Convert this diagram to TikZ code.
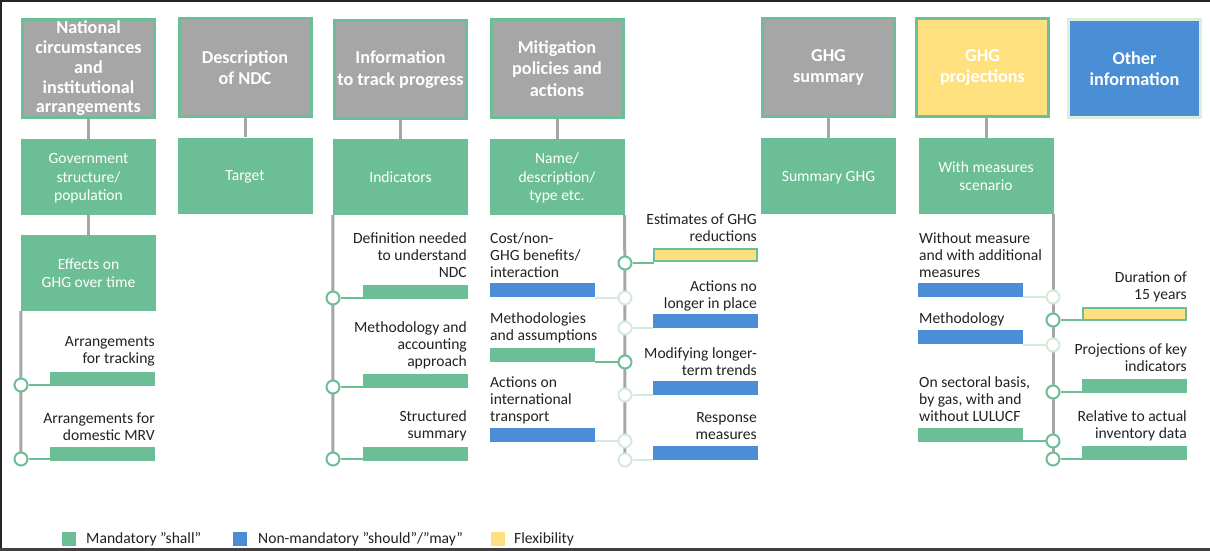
\documentclass[tikz,border=0pt]{standalone}
\usepackage{fontspec}
\setmainfont{Carlito}
\usetikzlibrary{backgrounds}
\definecolor{gr}{HTML}{6BBE96}
\definecolor{fgr}{HTML}{D4EBDC}
\definecolor{gy}{HTML}{A6A6A6}
\definecolor{yl}{HTML}{FFE07F}
\definecolor{bl}{HTML}{4A8FD6}
\definecolor{lbd}{HTML}{DCEFDD}
\definecolor{tx}{HTML}{222222}
\tikzset{
  hdr/.style={draw=gr, line width=3pt, fill=gy, minimum width=132pt, minimum height=98pt,
    inner sep=0pt, text=white, align=center, font=\fontsize{18.2}{21.5}\selectfont\bfseries},
  sub/.style={fill=gr, minimum width=135pt, minimum height=76pt, inner sep=0pt,
    text=white, align=center, font=\fontsize{15.6}{18.5}\selectfont, text depth=-1pt},
  bar/.style={minimum width=105pt, minimum height=14pt, inner sep=0pt, outer sep=0pt},
  gbar/.style={bar, fill=gr},
  bbar/.style={bar, fill=bl},
  ybar/.style={bar, fill=yl, draw=gr, line width=2pt, minimum width=103pt, minimum height=12pt},
  circ/.style={circle, fill=white, line width=2pt, minimum size=13pt, inner sep=0pt},
  scirc/.style={circ, draw=gr},
  fcirc/.style={circ, draw=fgr},
  sline/.style={draw=gr, line width=2pt},
  fline/.style={draw=fgr, line width=2pt},
  vline/.style={draw=gy, line width=3pt},
  lab/.style={text=tx, inner sep=0pt, font=\fontsize{15.6}{17}\selectfont},
  rlab/.style={lab, align=right, anchor=east},
  llab/.style={lab, align=left, anchor=west},
  leg/.style={minimum width=14pt, minimum height=14pt, inner sep=0pt},
}
\begin{document}
\begin{tikzpicture}[x=1pt,y=-1pt]
\useasboundingbox (0,0) rectangle (1210,551);

% headers
\node[hdr, font=\fontsize{18.2}{19.75}\selectfont\bfseries] (h1) at (88.5,68.5) {National\\circumstances\\and\\institutional\\arrangements};
\node[hdr] (h2) at (245,67.5) {Description\\of NDC};
\node[hdr] (h3) at (400.5,69.5) {Information\\to track progress};
\node[hdr] (h4) at (557,68.5) {Mitigation\\policies and\\actions};
\node[hdr] (h5) at (828.5,67.5) {GHG\\summary};
\node[hdr, fill=yl] (h6) at (982.5,67.5) {GHG\\projections};
\node[hdr, fill=bl, draw=lbd] (h7) at (1134.5,68.5) {Other\\information};

% sub boxes
\node[sub] (s1) at (88.5,177) {Government\\structure/\\population};
\node[sub] (s2) at (245,175.5) {Target};
\node[sub] (s3) at (400.5,177) {Indicators};
\node[sub] (s4) at (557,177) {Name/\\description/\\type etc.};
\node[sub] (s5) at (828.5,176) {Summary GHG};
\node[sub] (s6) at (986,176) {With measures\\scenario};
\node[sub] (s7) at (88.5,273) {Effects on\\GHG over time};

% bars
\node[gbar, anchor=south west] (ba1) at (50,386) {};
\node[gbar, anchor=south west] (ba2) at (50,461) {};
\node[gbar, anchor=south west] (bb1) at (363,299) {};
\node[gbar, anchor=south west] (bb2) at (363,388) {};
\node[gbar, anchor=south west] (bb3) at (363,461) {};
\node[bbar, anchor=south west] (bl1) at (490,297) {};
\node[gbar, anchor=south west] (bl2) at (490,362) {};
\node[bbar, anchor=south west] (bl3) at (490,442) {};
\node[ybar] (br1) at (705.5,255) {};
\node[bbar, anchor=south west] (br2) at (653,328) {};
\node[bbar, anchor=south west] (br3) at (653,395) {};
\node[bbar, anchor=south west] (br4) at (653,460) {};
\node[bbar, anchor=south west] (bl4) at (918,297) {};
\node[bbar, anchor=south west] (bl5) at (918,344) {};
\node[gbar, anchor=south west] (bl6) at (918,442) {};
\node[ybar] (br5) at (1134.5,314) {};
\node[gbar, anchor=south west] (br6) at (1082,393) {};
\node[gbar, anchor=south west] (br7) at (1082,460) {};

% circles
\node[scirc] (ca1) at (21,385) {};
\node[scirc] (ca2) at (21,459) {};
\node[scirc] (cb1) at (333,298) {};
\node[scirc] (cb2) at (333,387) {};
\node[scirc] (cb3) at (333,459) {};
\node[scirc] (cr1) at (625,263) {};
\node[fcirc] (cl1) at (625,298) {};
\node[fcirc] (cr2) at (625,328) {};
\node[scirc] (cl2) at (625,362) {};
\node[fcirc] (cr3) at (625,395) {};
\node[fcirc] (cl3) at (625,441) {};
\node[fcirc] (cr4) at (625,460) {};
\node[fcirc] (cl4) at (1053,297) {};
\node[scirc] (cr5) at (1053,320) {};
\node[fcirc] (cl5) at (1053,345) {};
\node[scirc] (cr6) at (1053,392) {};
\node[scirc] (cl6) at (1053,441) {};
\node[scirc] (cr7) at (1053,459) {};

\begin{pgfonlayer}{background}
  \fill[white] (0,0) rectangle (1210,551);
  \draw[line width=2pt, black!85] (0,1) -- (1210,1);
  \draw[line width=2pt, black!85] (1,0) -- (1,551);
  \draw[line width=3pt, black!75] (0,549.5) -- (1210,549.5);
  % header to sub connectors
  \draw[vline] (h1.south) -- (s1.north);
  \draw[vline] (h2.south) -- (s2.north);
  \draw[vline] (h3.south) -- (s3.north);
  \draw[vline] (h4.south) -- (s4.north);
  \draw[vline] (h5.south) -- (s5.north);
  \draw[vline] (s6.north) -- (s6.north |- h6.south);
  \draw[vline] (s1.south) -- (s7.north);
  % spines
  \draw[vline] (s7.south west) -- (ca2.center);
  \draw[vline] (s3.south west) -- (cb3.center);
  \draw[vline] (s4.south east) -- (cr4.center);
  \draw[vline] (s6.south -| cr7) -- (cr7.center);
\end{pgfonlayer}

% circle to bar connectors
\draw[sline] (ca1) -- (ca1 -| ba1.west);
\draw[sline] (ca2) -- (ca2 -| ba2.west);
\draw[sline] (cb1) -- (cb1 -| bb1.west);
\draw[sline] (cb2) -- (cb2 -| bb2.west);
\draw[sline] (cb3) -- (cb3 -| bb3.west);
\draw[sline] (cr1) -- (cr1 -| br1.west);
\draw[fline] (cl1) -- (cl1 -| bl1.east);
\draw[fline] (cr2) -- (cr2 -| br2.west);
\draw[sline] (cl2) -- (cl2 -| bl2.east);
\draw[fline] (cr3) -- (cr3 -| br3.west);
\draw[fline] (cl3) -- (cl3 -| bl3.east);
\draw[fline] (cr4) -- (cr4 -| br4.west);
\draw[fline] (cl4) -- (cl4 -| bl4.east);
\draw[sline] (cr5) -- (cr5 -| br5.west);
\draw[fline] (cl5) -- (cl5 -| bl5.east);
\draw[sline] (cr6) -- (cr6 -| br6.west);
\draw[sline] (cl6) -- (cl6 -| bl6.east);
\draw[sline] (cr7) -- (cr7 -| br7.west);

% labels
\node[rlab] (t1) at (155,351) {Arrangements\\for tracking};
\node[rlab] (t2) at (155,426.5) {Arrangements for\\domestic MRV};
\node[rlab] (t3) at (467,255) {Definition needed\\to understand\\NDC};
\node[rlab] (t4) at (467,345) {Methodology and\\accounting\\approach};
\node[rlab] (t5) at (467,426) {Structured\\summary};
\node[llab] (t6) at (490,255) {Cost/non-\\GHG benefits/\\interaction};
\node[llab] (t7) at (490,328) {Methodologies\\and assumptions};
\node[llab] (t8) at (490,400) {Actions on\\international\\transport};
\node[rlab] (t9) at (757,228) {Estimates of GHG\\reductions};
\node[rlab] (t10) at (757,295.5) {Actions no\\longer in place};
\node[rlab] (t11) at (757,361.5) {Modifying longer-\\term trends};
\node[rlab] (t12) at (757,426.5) {Response\\measures};
\node[llab] (t13) at (919,255) {Without measure\\and with additional\\measures};
\node[llab] (t14) at (919,319) {Methodology};
\node[llab] (t15) at (919,399) {On sectoral basis,\\by gas, with and\\without LULUCF};
\node[rlab] (t16) at (1187,286.5) {Duration of\\15 years};
\node[rlab] (t17) at (1187,358) {Projections of key\\indicators};
\node[rlab] (t18) at (1187,426) {Relative to actual\\inventory data};

% legend
\node[leg, fill=gr] (lg1) at (69,539) {};
\node[lab, anchor=west] (lt1) at (86,539) {Mandatory ”shall”};
\node[leg, fill=bl] (lg2) at (239.5,539) {};
\node[lab, anchor=west] (lt2) at (258,539) {Non-mandatory ”should”/”may”};
\node[leg, fill=yl] (lg3) at (497.5,539) {};
\node[lab, anchor=west] (lt3) at (514,539) {Flexibility};
\end{tikzpicture}
\end{document}
